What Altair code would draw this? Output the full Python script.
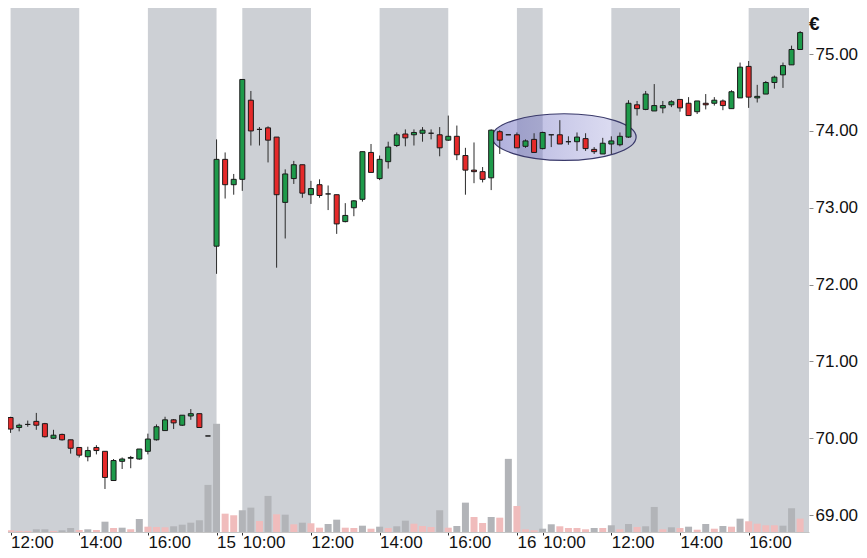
import altair as alt
import pandas as pd

# ---- data (15-minute candles, 3 trading days) ----
opens = [70.27, 70.14, 70.18, 70.22, 70.19, 70.00, 70.05, 69.98, 69.88, 69.76, 69.88, 69.83,
         69.45, 69.70, 69.74, 69.73, 69.83, 69.98, 70.10, 70.24, 70.17, 70.29, 70.32, 70.03,
         72.50, 73.63, 73.30, 73.37, 74.40, 74.02, 74.04, 73.92, 73.07, 73.38, 73.56, 73.17,
         73.30, 73.18, 73.17, 72.82, 73.00, 73.11, 73.72, 73.38, 73.60, 73.81, 73.96, 73.95,
         73.97, 73.97, 73.95, 73.88, 73.93, 73.68, 73.49, 73.47, 73.39, 73.99, 73.95,
         73.95, 73.80, 73.89, 73.77, 73.95, 73.95, 73.86, 73.86, 73.90, 73.76, 73.70, 73.83,
         73.82, 73.92, 74.34, 74.28, 74.26, 74.30, 74.34, 74.41, 74.36, 74.25, 74.36, 74.36,
         74.39, 74.29, 74.43, 74.84, 74.43, 74.48, 74.63, 74.73, 74.86, 75.06]
highs = [70.28, 70.19, 70.23, 70.33, 70.20, 70.11, 70.06, 69.98, 69.88, 69.89, 69.91, 69.83,
         69.73, 69.75, 69.77, 69.86, 70.06, 70.18, 70.28, 70.25, 70.30, 70.38, 70.32, 70.03,
         73.89, 73.72, 73.44, 74.67, 74.52, 74.05, 74.06, 73.92, 73.50, 73.61, 73.56, 73.35,
         73.37, 73.29, 73.17, 73.06, 73.10, 73.73, 73.83, 73.68, 73.86, 73.98, 74.02, 74.02,
         74.05, 74.02, 74.05, 74.20, 74.07, 73.78, 73.85, 73.53, 74.02, 74.01, 73.95,
         73.98, 73.89, 73.97, 73.99, 73.95, 74.14, 73.93, 73.98, 73.97, 73.79, 73.91, 73.93,
         73.98, 74.40, 74.39, 74.52, 74.61, 74.39, 74.40, 74.41, 74.44, 74.39, 74.48, 74.44,
         74.41, 74.53, 74.89, 74.91, 74.60, 74.65, 74.72, 74.89, 75.11, 75.30]
lows = [70.07, 70.09, 70.15, 70.11, 70.01, 69.99, 69.97, 69.80, 69.75, 69.70, 69.79, 69.34,
        69.45, 69.60, 69.61, 69.72, 69.79, 69.97, 70.10, 70.12, 70.16, 70.24, 70.14, 70.03,
        72.14, 73.12, 73.17, 73.22, 73.81, 73.81, 73.59, 72.22, 72.60, 73.31, 73.13, 73.05,
        73.13, 72.97, 72.66, 72.81, 72.89, 73.08, 73.46, 73.36, 73.51, 73.79, 73.80, 73.81,
        73.86, 73.89, 73.67, 73.87, 73.62, 73.17, 73.32, 73.33, 73.23, 73.70, 73.95,
        73.78, 73.78, 73.72, 73.76, 73.79, 73.83, 73.82, 73.74, 73.74, 73.70, 73.70, 73.70,
        73.80, 73.91, 74.20, 74.27, 74.26, 74.23, 74.31, 74.25, 74.20, 74.22, 74.28, 74.33,
        74.27, 74.29, 74.43, 74.30, 74.37, 74.48, 74.55, 74.56, 74.86, 75.06]
closes = [70.12, 70.17, 70.18, 70.17, 70.02, 70.04, 69.98, 69.87, 69.78, 69.84, 69.84, 69.49,
          69.71, 69.73, 69.75, 69.86, 69.99, 70.15, 70.24, 70.20, 70.30, 70.32, 70.14, 70.03,
          73.63, 73.30, 73.37, 74.67, 74.00, 74.02, 73.88, 73.17, 73.44, 73.56, 73.19, 73.25,
          73.16, 73.18, 72.79, 72.90, 73.09, 73.73, 73.46, 73.63, 73.79, 73.95, 73.91, 73.98,
          74.01, 73.97, 73.78, 73.93, 73.69, 73.49, 73.47, 73.37, 74.01, 73.88, 73.95,
          73.78, 73.87, 73.72, 73.98, 73.95, 73.83, 73.86, 73.92, 73.77, 73.73, 73.84, 73.87,
          73.93, 74.36, 74.29, 74.48, 74.33, 74.33, 74.38, 74.30, 74.20, 74.39, 74.34, 74.40,
          74.33, 74.51, 74.83, 74.44, 74.45, 74.63, 74.70, 74.85, 75.06, 75.28]
volumes = [17, 10, 10, 27, 27, 10, 17, 40, 20, 27, 20, 103, 40, 43, 27, 130, 53, 50, 47, 57,
           73, 93, 117, 470,
           1080, 183, 167, 217, 243, 110, 360, 177, 173, 77, 93, 87, 43, 80, 123, 43, 40, 63,
           33, 53, 40, 57, 113, 83, 60, 50, 217, 43, 60, 293, 150, 90, 150, 143, 730,
           260, 27, 17, 33, 77, 57, 40, 40, 27, 40, 40, 67, 27, 80, 50, 57, 250, 27, 47, 40,
           53, 23, 80, 33, 60, 53, 133, 107, 83, 67, 67, 63, 237, 133]
vol_kind = list("pppggpggpgpg" "pgpgpppggggg"
                "gppggpgpgpgp" "pggppgpgpggp" "ppgpggppgpg"
                "pppggppppgpg" "pgpggpgpgpgp" "gpgppppggp")

band_start = [0, 16, 27, 43, 59, 70, 86]
band_end = [8, 24, 35, 51, 62, 78, 94]

tick_idx = [0, 8, 16, 24, 27, 35, 43, 51, 59, 62, 70, 78, 86]
tick_labels = ["12:00", "14:00", "16:00", "15", "10:00", "12:00", "14:00", "16:00",
               "16", "10:00", "12:00", "14:00", "16:00"]

price_ticks = [69, 70, 71, 72, 73, 74, 75]

ellipse_x = [64.5]
ellipse_y = [73.92]

n = len(opens)
df = pd.DataFrame({
    "i": list(range(n)),
    "open": opens, "high": highs, "low": lows, "close": closes,
    "vol": volumes, "vk": vol_kind,
})
df["dir"] = ["up" if c >= o else "down" for o, c in zip(opens, closes)]
bands_df = pd.DataFrame({"s": band_start, "e": band_end})
ell_df = pd.DataFrame({"ex": ellipse_x, "ey": ellipse_y})

FONT = "Liberation Sans"
Y_MIN, Y_MAX = 68.78, 75.60
X_MIN, X_MAX = -0.3, 92.45
VOL_MAX = 5230          # volume that would fill the whole plot height
xscale = alt.Scale(domain=[X_MIN, X_MAX], nice=False, zero=False)
yscale = alt.Scale(domain=[Y_MIN, Y_MAX], nice=False, zero=False)

label_expr = ""
for v, t in zip(tick_idx, tick_labels):
    label_expr += "datum.value == %s ? '%s' : " % (v, t)
label_expr += "''"

x_axis = alt.Axis(values=tick_idx, labelExpr=label_expr, title=None, grid=False,
                  labelAlign="left", labelFont=FONT, labelFontSize=17, labelColor="#111111",
                  labelPadding=-1, tickSize=3, tickColor="#333333", domainColor="#c4c4c4")
y_axis = alt.Axis(orient="right", values=price_ticks, format=".2f", grid=False, domain=False,
                  labelFont=FONT, labelFontSize=17, labelColor="#111111", labelPadding=2,
                  tickSize=4, tickColor="#8a8a8a", title=None)

bands = alt.Chart(bands_df).mark_rect(color="#cdd0d5", clip=True).encode(
    x=alt.X("s:Q", scale=xscale, axis=x_axis), x2="e:Q")

# volume panel shares the plot: volume mapped into the lower part of the price range
volume = alt.Chart(df).transform_calculate(
    vtop=f"{Y_MIN} + datum.vol / {VOL_MAX} * ({Y_MAX} - {Y_MIN})",
    vbase=f"{Y_MIN}"
).mark_bar(size=7).encode(
    x=alt.X("i:Q", scale=xscale),
    y=alt.Y("vtop:Q", scale=yscale), y2="vbase:Q",
    color=alt.Color("vk:N", scale=alt.Scale(domain=["g", "p"], range=["#b2b4b8", "#f0bcbc"]),
                    legend=None))

ell_path = ("M -1 0 C -1 -0.179 -0.552 -0.324 0 -0.324 C 0.552 -0.324 1 -0.179 1 0 "
            "C 1 0.179 0.552 0.324 0 0.324 C -0.552 0.324 -1 0.179 -1 0 Z")
ell_fill = alt.Gradient(gradient="linear", x1=0, x2=1, y1=0, y2=0, stops=[
    alt.GradientStop(color="rgba(95,95,185,0.50)", offset=0),
    alt.GradientStop(color="rgba(140,140,210,0.25)", offset=1)])
ellipse = alt.Chart(ell_df).mark_point(shape=ell_path, size=20736, filled=True, fill=ell_fill,
                                       stroke="#3a3a6a", strokeWidth=1.2, opacity=1).encode(
    x=alt.X("ex:Q", scale=xscale),
    y=alt.Y("ey:Q", scale=yscale))

wicks = alt.Chart(df).mark_rule(color="#2b2b2b", strokeWidth=1).encode(
    x=alt.X("i:Q", scale=xscale),
    y=alt.Y("low:Q", scale=yscale, axis=y_axis), y2="high:Q")

bodies = alt.Chart(df).mark_bar(size=5, stroke="#1a1a1a", strokeWidth=1).encode(
    x=alt.X("i:Q", scale=xscale),
    y=alt.Y("open:Q", scale=yscale), y2="close:Q",
    fill=alt.Fill("dir:N", scale=alt.Scale(domain=["up", "down"], range=["#1e9a4a", "#e52a2a"]),
                  legend=None))

# currency unit written at the top of the price axis
euro_df = pd.DataFrame({"t": ["€"]})
euro = alt.Chart(euro_df).mark_text(
    align="left", baseline="alphabetic", font=FONT, fontSize=19,
    fontWeight="bold", color="#111111", dx=5
).encode(x=alt.X(datum=X_MAX, scale=xscale), y=alt.value(22), text="t:N")

chart = alt.layer(bands, volume, ellipse, wicks, bodies, euro).properties(
    width=851, height=542,
    autosize=alt.AutoSizeParams(type="fit", contains="padding"),
    padding={"left": -5, "right": 1, "top": 0, "bottom": 0}, background="white"
).configure_view(stroke=None)

chart.save("out.html", embed_options={"renderer": "svg", "actions": False})
